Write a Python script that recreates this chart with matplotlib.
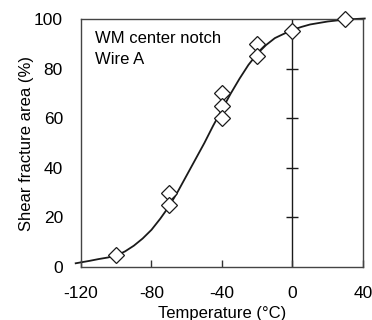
import matplotlib.pyplot as plt

plt.rcParams['font.family'] = ['Liberation Sans', 'DejaVu Sans']
plt.rcParams['axes.unicode_minus'] = False

# measured points
temp = [-100, -70, -70, -40, -40, -40, -20, -20, 0, 30]
shear = [5, 30, 25, 70, 65, 60, 90, 85, 95, 100]

# fitted curve
curve_t = [-123, -115, -110, -105, -100, -95, -90, -85, -80, -75, -70, -65, -60,
           -55, -50, -45, -40, -35, -30, -25, -20, -15, -10, -5, 0, 5, 10,
           20, 30, 41]
curve_s = [1.5, 2.5, 3.2, 3.8, 4.6, 6.3, 8.6, 11.5, 15, 19.5, 24.5, 30.5, 37,
           43.5, 50, 57, 63.5, 70, 76, 81.5, 86, 89.5, 92.3, 94, 95.6, 96.8, 97.8,
           99, 99.8, 100.2]

xticks = [-120, -80, -40, 0, 40]
yticks = [0, 20, 40, 60, 80, 100]

fig = plt.figure(figsize=(3.72, 3.2), dpi=100)
ax = fig.add_axes([0.2177, 0.1656, 0.7581, 0.775])

ax.plot(curve_t, curve_s, '-', color='#1a1a1a', lw=1.3, clip_on=False, zorder=2)
ax.plot(temp, shear, 'D', mfc='white', mec='#1a1a1a', mew=0.9, ms=8,
        clip_on=False, zorder=3)

# vertical line at 0 with crossing ticks
ax.axvline(0, color='#1a1a1a', lw=1.0, zorder=1)
ax.plot([0] * 4, yticks[1:5], '_', color='#1a1a1a', ms=8, mew=1.0, zorder=1)

ax.set_xlim(-120, 40)
ax.set_ylim(0, 100)
ax.set_xticks(xticks)
ax.set_yticks(yticks)
ax.tick_params(axis='x', direction='in', length=5, width=1, color='#333333',
               labelsize=12.5, pad=14)
ax.tick_params(axis='y', length=0, labelsize=12.5, pad=13)
for s in ax.spines.values():
    s.set_color('#444444')
    s.set_linewidth(1.0)

ax.text(-112, 92, 'WM center notch', fontsize=12, va='center')
ax.text(-112, 83.5, 'Wire A', fontsize=12, va='center')

ax.set_xlabel('Temperature (°C)', fontsize=12, labelpad=3)
ax.set_ylabel('Shear fracture area (%)', fontsize=12, labelpad=0)

fig.savefig('out.png', dpi=100)
